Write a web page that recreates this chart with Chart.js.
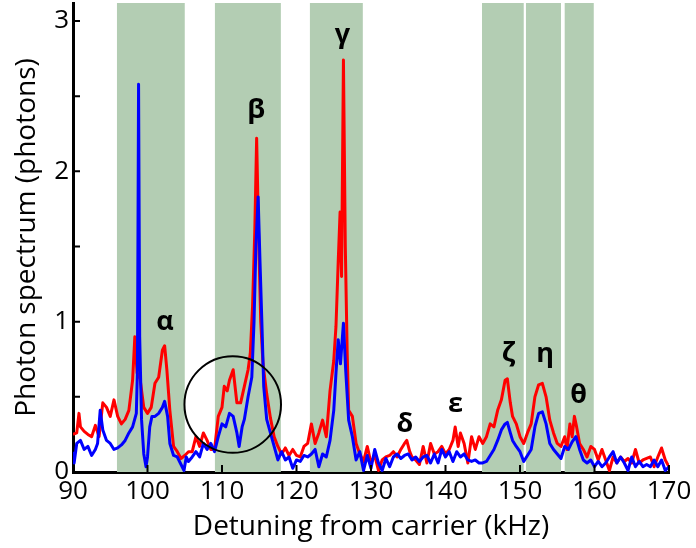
<!DOCTYPE html>
<html>
<head>
<meta charset="utf-8">
<script src="https://cdn.jsdelivr.net/npm/chart.js@4"></script>
<style>
body { margin: 0; background: #fff; }
#wrap { width: 696px; height: 548px; }
</style>
</head>
<body>
<div id="wrap"><canvas id="myChart"></canvas></div>
<script>
var redX = [90.0, 90.5, 90.8, 91.0, 91.5, 92.0, 92.5, 93.0, 93.5, 94.0, 94.5, 95.0, 95.5, 96.0, 96.5, 97.0, 97.5, 98.0, 98.3, 98.6,
  99.0, 99.5, 100.0, 100.5, 101.0, 101.5, 102.0, 102.3, 102.6, 103.0, 103.5, 104.0, 104.5, 105.0, 105.5, 106.0, 106.5, 107.0, 107.5, 108.0,
  108.5, 109.0, 109.5, 110.0, 110.3, 110.7, 111.0, 111.5, 112.0, 112.5, 113.0, 113.5, 113.8, 114.1, 114.4, 114.65, 114.9, 115.2, 115.5, 116.0,
  116.5, 117.0, 117.5, 118.0, 118.5, 119.0, 119.5, 120.0, 120.5, 121.0, 121.5, 122.0, 122.5, 123.0, 123.5, 124.0, 124.5, 125.0, 125.3, 125.6,
  125.85, 126.05, 126.3, 126.55, 126.8, 127.0, 127.5, 128.0, 128.5, 129.0, 129.5, 130.0, 130.5, 131.0, 131.5, 132.0, 132.5, 133.0, 133.5, 134.0,
  134.5, 134.8, 135.2, 135.5, 136.0, 136.5, 137.0, 137.5, 138.0, 138.5, 139.0, 139.5, 140.0, 140.5, 141.0, 141.3, 141.7, 142.0, 142.5, 143.0,
  143.5, 144.0, 144.5, 145.0, 145.5, 146.0, 146.5, 147.0, 147.5, 148.0, 148.3, 148.7, 149.0, 149.5, 150.0, 150.5, 151.0, 151.5, 152.0, 152.5,
  153.0, 153.5, 154.0, 154.5, 155.0, 155.5, 156.0, 156.3, 156.7, 157.0, 157.3, 157.6, 158.0, 158.5, 159.0, 159.5, 160.0, 160.5, 161.0, 161.5,
  162.0, 162.5, 163.0, 163.5, 164.0, 164.5, 165.0, 165.5, 166.0, 166.5, 167.0, 167.5, 168.0, 168.5, 169.0, 169.5, 170.0];
var redY = [0.25, 0.26, 0.39, 0.30, 0.27, 0.25, 0.235, 0.31, 0.235, 0.46, 0.43, 0.37, 0.48, 0.37, 0.32, 0.35, 0.41, 0.61, 0.90, 0.66,
  0.62, 0.43, 0.39, 0.43, 0.59, 0.63, 0.81, 0.84, 0.68, 0.41, 0.17, 0.135, 0.09, 0.11, 0.135, 0.135, 0.235, 0.17, 0.26, 0.21,
  0.15, 0.15, 0.37, 0.43, 0.57, 0.54, 0.61, 0.68, 0.46, 0.46, 0.57, 0.68, 0.79, 1.1, 1.6, 2.22, 1.6, 1.0, 0.72, 0.52,
  0.36, 0.235, 0.17, 0.12, 0.16, 0.11, 0.15, 0.11, 0.10, 0.17, 0.19, 0.32, 0.19, 0.26, 0.345, 0.235, 0.54, 0.74, 0.97, 1.4,
  1.73, 1.3, 2.74, 1.5, 0.8, 0.41, 0.37, 0.19, 0.12, 0.07, 0.17, 0.06, 0.11, 0.01, 0.08, 0.10, 0.11, 0.135, 0.10, 0.15,
  0.19, 0.21, 0.135, 0.10, 0.08, 0.05, 0.17, 0.06, 0.19, 0.12, 0.135, 0.17, 0.12, 0.15, 0.21, 0.30, 0.17, 0.26, 0.19, 0.06,
  0.235, 0.15, 0.235, 0.19, 0.235, 0.32, 0.30, 0.41, 0.48, 0.61, 0.62, 0.46, 0.37, 0.32, 0.235, 0.19, 0.26, 0.32, 0.50, 0.58,
  0.59, 0.50, 0.345, 0.26, 0.19, 0.17, 0.235, 0.15, 0.32, 0.235, 0.37, 0.30, 0.19, 0.15, 0.10, 0.17, 0.15, 0.08, 0.15, 0.08,
  0.01, 0.10, 0.06, 0.10, 0.07, 0.09, 0.06, 0.15, 0.06, 0.08, 0.09, 0.10, 0.035, 0.10, 0.16, 0.08, 0.035];

var blueX = [90.0, 90.15, 90.5, 91.0, 91.5, 92.0, 92.5, 93.0, 93.3, 93.65, 94.0, 94.5, 95.0, 95.5, 96.0, 96.5, 97.0, 97.5, 98.0, 98.5,
  98.65, 98.8, 98.95, 99.2, 99.5, 99.8, 100.0, 100.3, 100.6, 101.0, 101.5, 102.0, 102.3, 102.7, 103.0, 103.5, 104.0, 104.5, 104.9, 105.2,
  105.5, 106.0, 106.5, 107.0, 107.5, 108.0, 108.5, 109.0, 109.5, 110.0, 110.5, 111.0, 111.5, 112.0, 112.3, 112.7, 113.0, 113.5, 114.0, 114.3,
  114.55, 114.85, 115.1, 115.35, 115.6, 116.0, 116.5, 117.0, 117.5, 118.0, 118.5, 119.0, 119.5, 120.0, 120.5, 121.0, 121.5, 122.0, 122.5, 123.0,
  123.5, 124.0, 124.5, 125.0, 125.3, 125.6, 125.9, 126.3, 126.6, 127.0, 127.5, 128.0, 128.5, 129.0, 129.5, 130.0, 130.5, 131.0, 131.5, 132.0,
  132.5, 133.0, 133.5, 134.0, 134.5, 135.0, 135.5, 136.0, 136.5, 137.0, 137.5, 138.0, 138.5, 139.0, 139.5, 140.0, 140.5, 141.0, 141.5, 142.0,
  142.5, 143.0, 143.5, 144.0, 144.5, 145.0, 145.5, 146.0, 146.5, 147.0, 147.5, 148.0, 148.3, 148.7, 149.0, 149.5, 150.0, 150.5, 151.0, 151.5,
  152.0, 152.5, 153.0, 153.5, 154.0, 154.5, 155.0, 155.5, 156.0, 156.5, 157.0, 157.5, 158.0, 158.5, 159.0, 159.5, 160.0, 160.5, 161.0, 161.5,
  162.0, 162.5, 163.0, 163.5, 164.0, 164.5, 165.0, 165.5, 166.0, 166.5, 167.0, 167.5, 168.0, 168.5, 169.0, 169.5, 170.0];
var blueY = [0.135, 0.06, 0.19, 0.21, 0.15, 0.17, 0.11, 0.15, 0.19, 0.41, 0.28, 0.21, 0.19, 0.15, 0.16, 0.18, 0.21, 0.26, 0.30, 0.39,
  0.68, 2.58, 0.9, 0.35, 0.12, 0.035, 0.10, 0.30, 0.37, 0.37, 0.39, 0.43, 0.47, 0.37, 0.19, 0.11, 0.10, 0.05, 0.01, 0.10,
  0.07, 0.10, 0.135, 0.10, 0.19, 0.15, 0.19, 0.135, 0.235, 0.32, 0.30, 0.39, 0.37, 0.26, 0.17, 0.30, 0.35, 0.50, 0.63, 1.0,
  1.5, 1.83, 1.4, 1.0, 0.57, 0.35, 0.26, 0.17, 0.08, 0.135, 0.08, 0.10, 0.025, 0.08, 0.07, 0.11, 0.10, 0.12, 0.15, 0.035,
  0.12, 0.10, 0.21, 0.41, 0.66, 0.88, 0.72, 0.99, 0.68, 0.345, 0.235, 0.08, 0.135, 0.01, 0.11, 0.025, 0.15, 0.06, 0.01, 0.09,
  0.035, 0.10, 0.12, 0.09, 0.11, 0.12, 0.08, 0.10, 0.07, 0.10, 0.11, 0.06, 0.12, 0.06, 0.15, 0.10, 0.135, 0.07, 0.135, 0.10,
  0.12, 0.08, 0.07, 0.08, 0.06, 0.06, 0.07, 0.11, 0.15, 0.21, 0.28, 0.32, 0.33, 0.26, 0.21, 0.17, 0.135, 0.07, 0.11, 0.15,
  0.30, 0.39, 0.40, 0.32, 0.19, 0.15, 0.12, 0.09, 0.17, 0.15, 0.20, 0.235, 0.15, 0.08, 0.06, 0.08, 0.035, 0.07, 0.035, 0.06,
  0.10, 0.135, 0.06, 0.10, 0.06, 0.01, 0.10, 0.035, 0.07, 0.035, 0.05, 0.035, 0.08, 0.035, 0.08, 0.01, 0.035];

// shaded detuning windows (kHz)
var bandStart = [95.9, 109.05, 121.8, 144.9, 150.8, 156.0];
var bandEnd = [105.0, 117.9, 128.9, 150.5, 155.5, 159.9];

// peak names, placed at (kHz, photons)
var peakNames = ["α", "β", "γ", "δ", "ε", "ζ", "η", "θ"];
var peakNameX = [102.35, 114.6, 126.15, 134.56, 141.34, 148.46, 153.36, 157.85];
var peakNameY = [0.947, 2.352, 2.857, 0.266, 0.399, 0.738, 0.731, 0.458];

// circled region: centre (kHz, photons) and radius (kHz)
var circleX = 111.44;
var circleY = 0.449;
var circleR = 6.48;

window.onload = function()
{
    Chart.defaults.font.family = "'Open Sans', sans-serif";
    Chart.defaults.color = "#000";

    var ctx = document.getElementById("myChart").getContext("2d");

    var redData = redX.map(function(x, i) { return {x: x, y: redY[i]}; });
    var blueData = blueX.map(function(x, i) { return {x: x, y: blueY[i]}; });

    var bands = {
        id: "bands",
        beforeDatasetsDraw: function(chart)
        {
            var c = chart.ctx, xs = chart.scales.x, area = chart.chartArea;
            c.save();
            c.fillStyle = "#b3cdb3";
            for (var i = 0; i < bandStart.length; i++)
            {
                var x1 = xs.getPixelForValue(bandStart[i]);
                var x2 = xs.getPixelForValue(bandEnd[i]);
                c.fillRect(x1, area.top, x2 - x1, area.bottom - area.top);
            }
            c.restore();
        }
    };

    var extras = {
        id: "extras",
        afterDraw: function(chart)
        {
            var c = chart.ctx, xs = chart.scales.x, ys = chart.scales.y;
            var area = chart.chartArea;
            c.save();

            // inward tick marks
            c.strokeStyle = "#000";
            c.lineWidth = 2;
            c.beginPath();
            xs.ticks.forEach(function(t) {
                var px = xs.getPixelForValue(t.value);
                c.moveTo(px, area.bottom);
                c.lineTo(px, area.bottom - 7);
            });
            ys.ticks.forEach(function(t) {
                var py = ys.getPixelForValue(t.value);
                c.moveTo(area.left, py);
                c.lineTo(area.left + 7, py);
            });
            c.stroke();

            // circle
            var cx = xs.getPixelForValue(circleX);
            var cy = ys.getPixelForValue(circleY);
            var r = xs.getPixelForValue(circleX + circleR) - cx;
            c.lineWidth = 2;
            c.beginPath();
            c.arc(cx, cy, r, 0, 2 * Math.PI);
            c.stroke();

            // greek peak names
            c.fillStyle = "#000";
            c.font = "bold 27px 'Open Sans', sans-serif";
            c.textAlign = "center";
            c.textBaseline = "alphabetic";
            for (var i = 0; i < peakNames.length; i++)
            {
                c.fillText(peakNames[i], xs.getPixelForValue(peakNameX[i]), ys.getPixelForValue(peakNameY[i]));
            }
            c.restore();
        }
    };

    var myChart = new Chart(ctx,
    {
        type: "line",
        data:
        {
            datasets:
            [{
                label: "blue",
                data: blueData,
                borderColor: "#0000ff",
                borderWidth: 3,
                pointRadius: 0,
                tension: 0,
                borderJoinStyle: "round"
            },
            {
                label: "red",
                data: redData,
                borderColor: "#ff0000",
                borderWidth: 3,
                pointRadius: 0,
                tension: 0,
                borderJoinStyle: "round"
            }]
        },
        options:
        {
            responsive: true,
            maintainAspectRatio: false,
            animation: false,
            layout: { padding: { top: 3, right: 27, left: 0, bottom: 0 } },
            plugins:
            {
                legend: { display: false },
                tooltip: { enabled: false }
            },
            scales:
            {
                x:
                {
                    type: "linear",
                    min: 90,
                    max: 170,
                    ticks: { stepSize: 10, font: { size: 26 }, padding: 4, maxRotation: 0 },
                    grid: { display: false, drawTicks: false },
                    border: { display: true, color: "#000", width: 3 },
                    title: { display: true, text: "Detuning from carrier (kHz)", font: { size: 28 }, padding: { top: 0, bottom: 4 } },
                    afterFit: function(s) { s.height = 76; s.paddingRight = 0; }
                },
                y:
                {
                    min: 0,
                    max: 3.12,
                    ticks:
                    {
                        stepSize: 0.5,
                        includeBounds: false,
                        font: { size: 26 },
                        padding: 4,
                        callback: function(v) { return Number.isInteger(v) ? v : ""; }
                    },
                    grid: { display: false, drawTicks: false },
                    border: { display: true, color: "#000", width: 3 },
                    title: { display: true, text: "Photon spectrum (photons)", font: { size: 28 }, padding: { top: 10, bottom: 0 } },
                    afterFit: function(s) { s.width = 73; s.paddingTop = 0; }
                }
            }
        },
        plugins: [bands, extras]
    });
};
</script>
</body>
</html>
